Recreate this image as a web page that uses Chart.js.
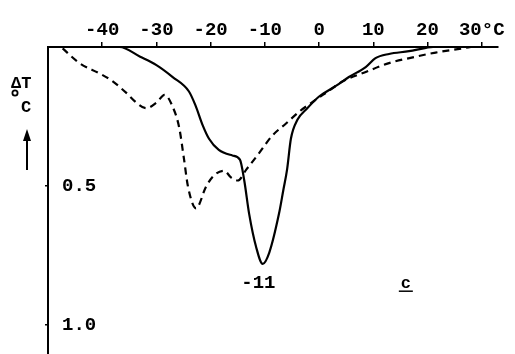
<!DOCTYPE html>
<html>
<head>
<meta charset="utf-8">
<script src="https://cdn.jsdelivr.net/npm/chart.js@4.4.1/dist/chart.umd.min.js"></script>
<style>
  html, body { margin: 0; padding: 0; background: #fff; }
  #wrap { width: 515px; height: 354px; }
  canvas { display: block; }
</style>
</head>
<body>
<div id="wrap"><canvas id="dta" width="515" height="354"></canvas></div>
<script>
// temperature (°C) / ΔT (°C) pairs
const solidTemp  = [-48, -36.8, -33, -30, -27, -24, -22.8, -21.5, -20.3, -18.5, -16, -14.6, -13.8, -12.9, -11.6, -10.4, -9.2, -7.4, -6.6, -5.9, -5.2, -4, -2.4, 0, 3.1, 5.5, 8.6, 10.4, 12.9, 16.6, 19.7, 21];
const solidDelta = [0, 0, 0.035, 0.065, 0.108, 0.16, 0.21, 0.28, 0.33, 0.37, 0.39, 0.405, 0.48, 0.6, 0.72, 0.78, 0.74, 0.6, 0.515, 0.44, 0.33, 0.262, 0.225, 0.178, 0.14, 0.108, 0.072, 0.04, 0.025, 0.015, 0.003, 0];

const dashTemp  = [-47.3, -44.2, -40.5, -38.3, -35.5, -33.7, -31.9, -30, -28.5, -27, -25.8, -24.9, -24.2, -22.7, -20.8, -19.3, -17.5, -16.2, -15, -13.4, -11, -8.7, -6.1, -3.5, -1, 2, 4.2, 8.6, 12.9, 17.8, 21.5, 26.4, 28];
const dashDelta = [0.005, 0.058, 0.095, 0.12, 0.166, 0.2, 0.22, 0.2, 0.172, 0.215, 0.29, 0.405, 0.5, 0.58, 0.5, 0.46, 0.445, 0.47, 0.48, 0.44, 0.38, 0.32, 0.275, 0.23, 0.195, 0.155, 0.125, 0.09, 0.058, 0.035, 0.02, 0.005, 0];

const xTickValues = [-40, -30, -20, -10, 0, 10, 20, 30];
const xTickLabels = ['-40', '-30', '-20', '-10', '0', '10', '20', '30°C'];
const yTickValues = [0.5, 1.0];
const yTickLabels = ['0.5', '1.0'];

const FONT = '"Liberation Mono", "DejaVu Sans Mono", monospace';
const toPoints = (xs, ys) => xs.map((x, i) => ({ x, y: ys[i] }));

// extra labels that sit on the plot: peak temperature and curve letter
const notes = [
  { text: '-11', t: -11.2, d: 0.851, size: 19 },
  { text: 'c', t: 16, d: 0.853, size: 17, underline: true },
];

function pinScale(s, size) {
  if (s.isHorizontal()) s.height = size; else s.width = size;
  s.paddingTop = 0;
  s.paddingBottom = 0;
  s.paddingLeft = 0;
  s.paddingRight = 0;
}

const decorPlugin = {
  id: 'decor',
  afterDraw(chart) {
    const ctx = chart.ctx;
    const xs = chart.scales.x;
    const ys = chart.scales.y;
    ctx.save();
    ctx.fillStyle = '#000';
    ctx.strokeStyle = '#000';
    ctx.textAlign = 'center';
    ctx.textBaseline = 'middle';
    notes.forEach((n) => {
      const px = xs.getPixelForValue(n.t);
      const py = ys.getPixelForValue(n.d);
      ctx.font = 'bold ' + n.size + 'px ' + FONT;
      ctx.fillText(n.text, px, py);
      if (n.underline) {
        ctx.lineWidth = 1.5;
        ctx.beginPath();
        ctx.moveTo(px - 7, py + 7);
        ctx.lineTo(px + 7, py + 7);
        ctx.stroke();
      }
    });

    // y axis title: ΔT / °C and an upward arrow
    ctx.font = 'bold 17px ' + FONT;
    ctx.textAlign = 'left';
    ctx.textBaseline = 'alphabetic';
    ctx.fillText('\u0394T', 11, 88);
    ctx.fillText('C', 21, 112);
    ctx.lineWidth = 1.8;
    ctx.beginPath();
    ctx.arc(15, 93, 2.6, 0, Math.PI * 2);
    ctx.stroke();

    ctx.lineWidth = 2;
    ctx.beginPath();
    ctx.moveTo(27, 170);
    ctx.lineTo(27, 138);
    ctx.stroke();
    ctx.beginPath();
    ctx.moveTo(27, 129);
    ctx.lineTo(23, 141);
    ctx.lineTo(31, 141);
    ctx.closePath();
    ctx.fill();
    ctx.restore();
  },
};

new Chart(document.getElementById('dta'), {
  type: 'line',
  data: {
    datasets: [
      {
        label: 'solid',
        data: toPoints(solidTemp, solidDelta),
        borderColor: '#000',
        borderWidth: 2.2,
        pointRadius: 0,
        cubicInterpolationMode: 'monotone',
        fill: false,
      },
      {
        label: 'dashed',
        data: toPoints(dashTemp, dashDelta),
        borderColor: '#000',
        borderWidth: 2.2,
        borderDash: [7, 5],
        pointRadius: 0,
        cubicInterpolationMode: 'monotone',
        fill: false,
      },
    ],
  },
  options: {
    responsive: false,
    devicePixelRatio: 1,
    animation: false,
    layout: { padding: { left: 0, top: 0, right: 17, bottom: 0 } },
    plugins: {
      legend: { display: false },
      tooltip: { enabled: false },
    },
    scales: {
      x: {
        type: 'linear',
        position: 'top',
        min: -50,
        max: 33,
        afterBuildTicks: (s) => { s.ticks = xTickValues.map((v) => ({ value: v })); },
        afterFit: (s) => pinScale(s, 47),
        ticks: {
          color: '#000',
          font: { family: FONT, size: 19, weight: 'bold' },
          padding: 0,
          maxRotation: 0,
          autoSkip: false,
          callback: (v) => xTickLabels[xTickValues.indexOf(v)],
        },
        grid: { drawOnChartArea: false, color: '#000', lineWidth: 1.5, tickLength: 5 },
        border: { display: true, color: '#000', width: 2 },
      },
      y: {
        type: 'linear',
        position: 'left',
        reverse: true,
        min: 0,
        max: 1.104,
        afterBuildTicks: (s) => { s.ticks = yTickValues.map((v) => ({ value: v })); },
        afterFit: (s) => pinScale(s, 48),
        ticks: {
          mirror: true,
          color: '#000',
          font: { family: FONT, size: 19, weight: 'bold' },
          padding: 14,
          callback: (v) => yTickLabels[yTickValues.indexOf(v)],
        },
        grid: { drawOnChartArea: false, color: '#000', lineWidth: 1.5, tickLength: 3 },
        border: { display: true, color: '#000', width: 2 },
      },
    },
  },
  plugins: [decorPlugin],
});
</script>
</body>
</html>
